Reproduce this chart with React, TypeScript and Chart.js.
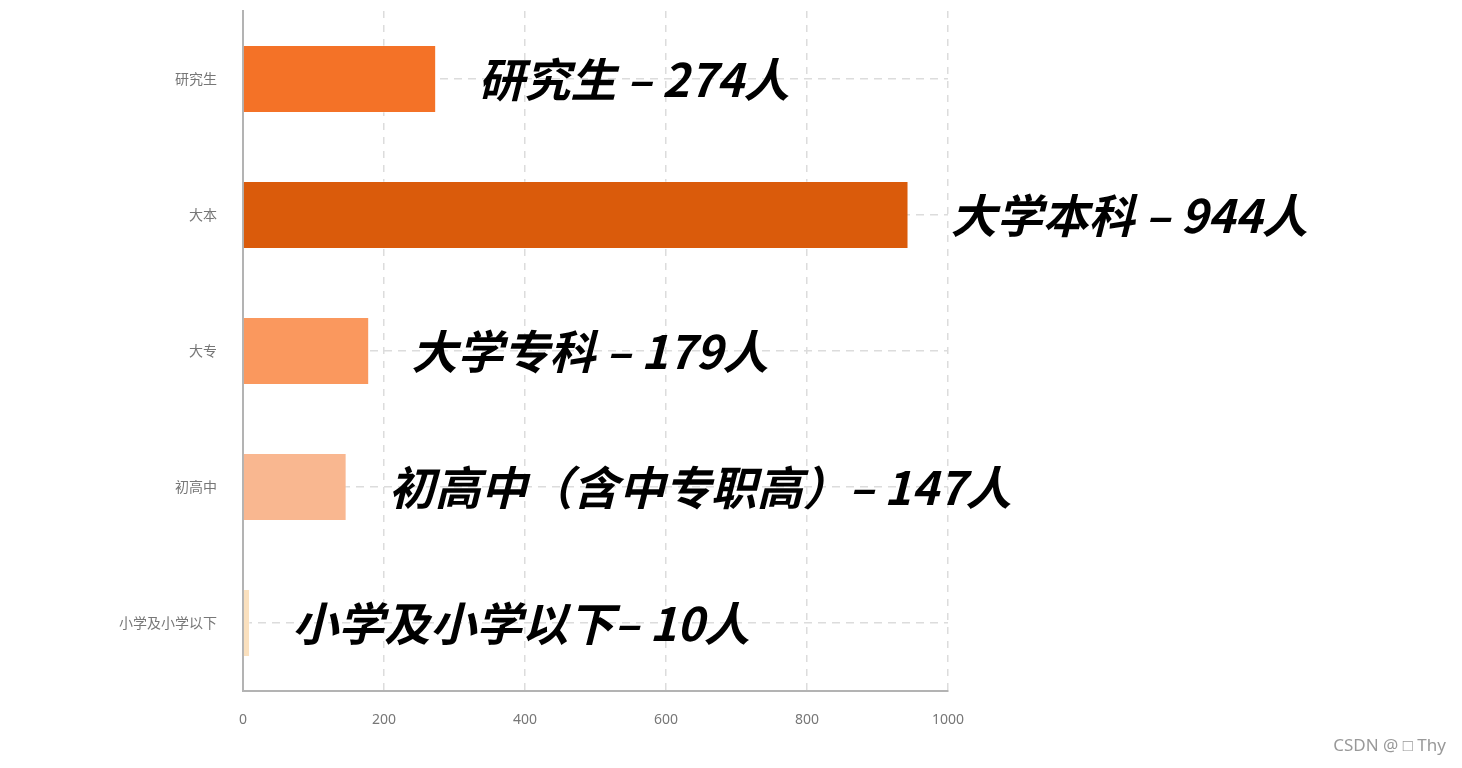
import { useEffect, useRef } from 'react';
import Chart from 'chart.js/auto';

const categories = ['研究生', '大本', '大专', '初高中', '小学及小学以下'];
const counts = [274, 944, 179, 147, 10];
const barLabels = [
  '研究生 – 274人',
  '大学本科 – 944人',
  '大学专科 – 179人',
  '初高中（含中专职高）– 147人',
  '小学及小学以下– 10人',
];
const barColors = ['#F47227', '#DA5B0B', '#FA985E', '#F9B790', '#FAE0BE'];
const xTicks = [0, 200, 400, 600, 800, 1000];

const labelPlugin = {
  id: 'barLabels',
  afterDatasetsDraw(chart: any) {
    const ctx = chart.ctx;
    const meta = chart.getDatasetMeta(0);
    ctx.save();
    ctx.font = "italic bold 46px 'Noto Sans CJK SC', sans-serif";
    ctx.fillStyle = '#000';
    ctx.textBaseline = 'middle';
    ctx.textAlign = 'left';
    meta.data.forEach((bar: any, i: number) => {
      ctx.fillText(barLabels[i], bar.x + 42, bar.y + 1);
    });
    ctx.restore();
  },
};

export default function App() {
  const canvasRef = useRef<HTMLCanvasElement>(null);

  useEffect(() => {
    document.body.style.margin = '0';
    const canvas = canvasRef.current;
    if (!canvas) return;
    const context = canvas.getContext('2d');
    if (!context) return;
    const chart = new Chart(context, {
      type: 'bar',
      data: {
        labels: categories,
        datasets: [{
          data: counts,
          backgroundColor: barColors,
          borderColor: 'rgba(255,255,255,0.35)',
          borderWidth: 1,
          barPercentage: 0.5,
          categoryPercentage: 1,
        }],
      },
      options: {
        indexAxis: 'y',
        animation: false,
        responsive: true,
        maintainAspectRatio: false,
        layout: { padding: { left: 0, right: 514, top: 11, bottom: 0 } },
        plugins: {
          legend: { display: false },
          tooltip: { enabled: false },
        },
        scales: {
          x: {
            min: 0,
            max: 1000,
            afterBuildTicks: (scale: any) => {
              scale.ticks = xTicks.map((v) => ({ value: v }));
            },
            afterFit: (scale: any) => {
              scale.height = 77;
              scale.paddingTop = 0;
            },
            grid: { color: '#dcdcdc', lineWidth: 1.5, drawTicks: false },
            border: { display: true, color: '#b3b3b3', width: 2, dash: [7, 7] },
            ticks: {
              padding: 21,
              color: '#777',
              font: { family: "'Noto Sans', sans-serif", size: 14 },
              callback: (v: any) => String(v),
            },
          },
          y: {
            afterFit: (scale: any) => {
              scale.width = 243;
              scale.paddingTop = 0;
              scale.paddingBottom = 0;
            },
            grid: { color: '#dcdcdc', lineWidth: 1.5, drawTicks: false, offset: false },
            border: { display: true, color: '#b3b3b3', width: 2, dash: [8, 6] },
            ticks: {
              padding: 26,
              color: '#777',
              font: { family: "'Noto Sans CJK SC', sans-serif", size: 14 },
            },
          },
        },
      },
      plugins: [labelPlugin],
    });
    return () => {
      chart.destroy();
    };
  }, []);

  return (
    <div style={{ position: 'fixed', left: 0, top: 0, width: 1462, height: 768, background: '#fff' }}>
      <canvas ref={canvasRef} />
      <div
        style={{
          position: 'absolute',
          right: 16,
          bottom: 12,
          color: '#999',
          fontSize: 17,
          fontFamily: "'Noto Sans', sans-serif",
        }}
      >
        CSDN @ □ Thy
      </div>
    </div>
  );
}
